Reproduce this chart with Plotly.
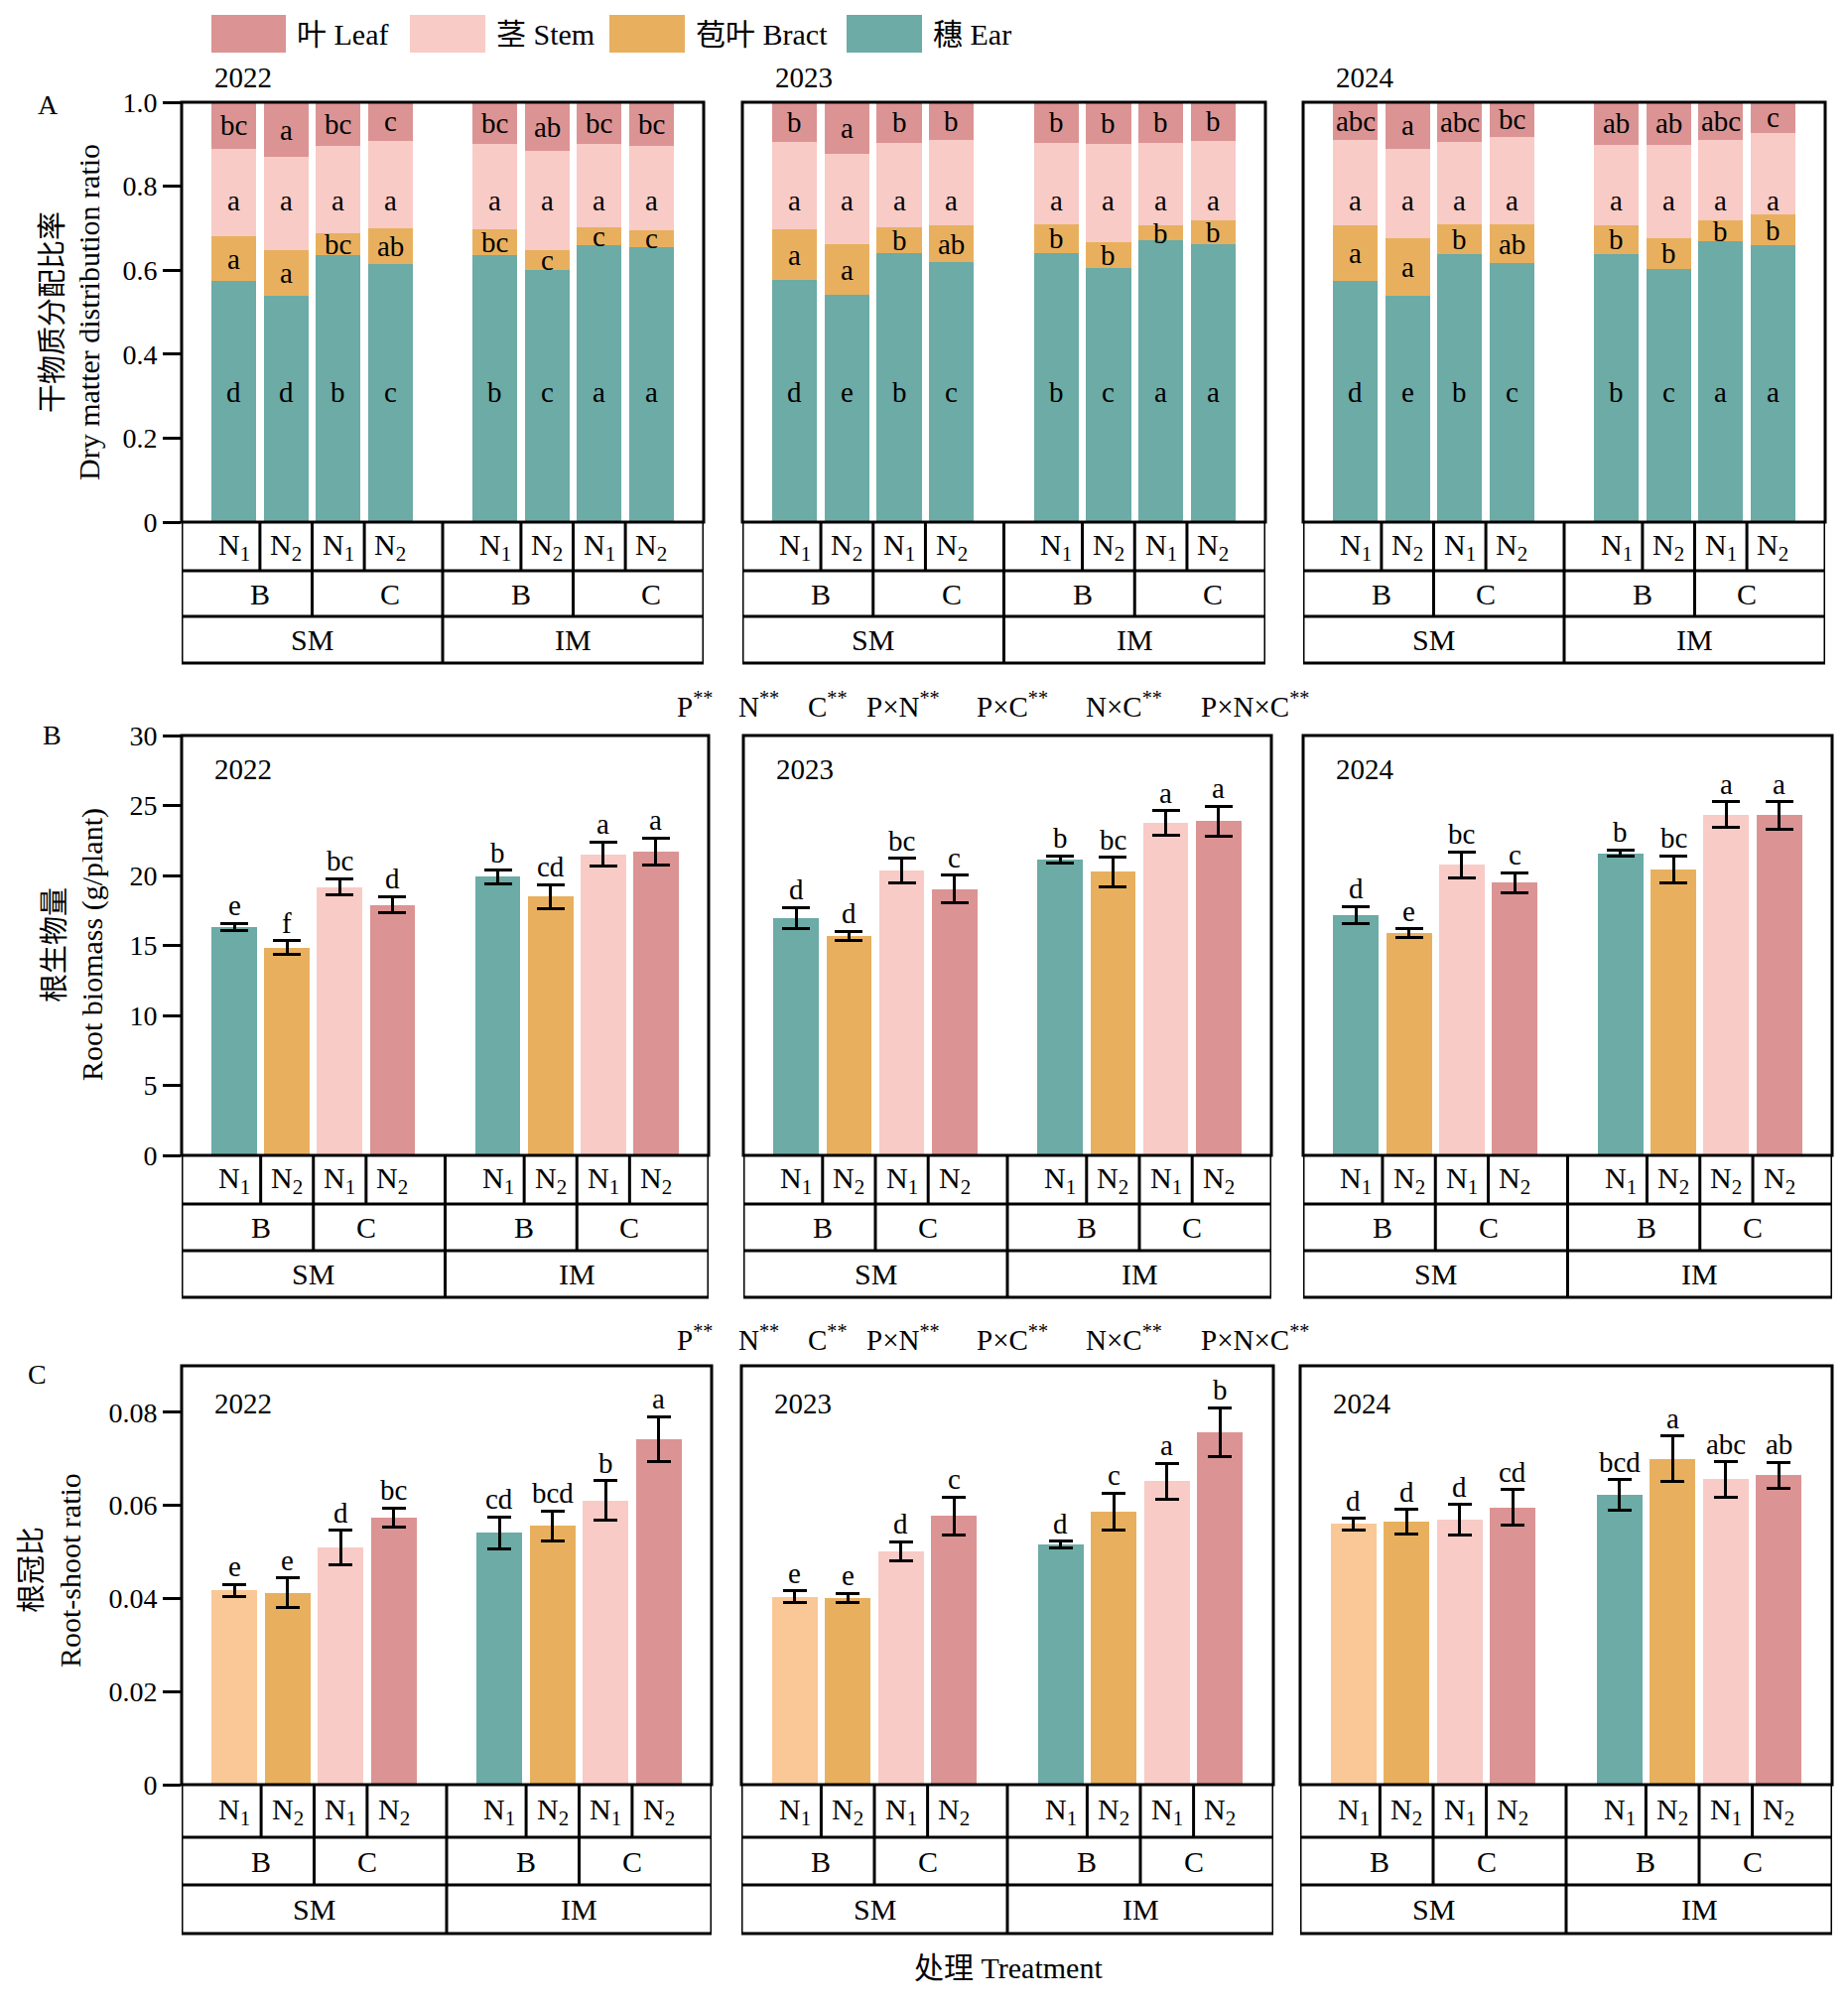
import plotly.graph_objects as go

W, H = 1862, 2021
OFF = 8  # page body margin compensation (px)
SERIF = "Liberation Serif"
MIXED = "Liberation Serif, Noto Sans CJK SC"

TEAL = "#6CABA6"
ORANGE = "#E8B05E"
LPINK = "#F8CBC6"
DPINK = "#DB9493"
LORANGE = "#F9C896"

years = ["2022", "2023", "2024"]
x_pos = [1, 2, 3, 4, 6, 7, 8, 9]

# ---------------- Panel A: dry matter distribution ratio (stacked) ----------------
ear_2022 = [0.574, 0.539, 0.637, 0.614, 0.637, 0.600, 0.660, 0.656]
bract_2022 = [0.106, 0.108, 0.052, 0.085, 0.061, 0.047, 0.041, 0.040]
stem_2022 = [0.210, 0.222, 0.208, 0.209, 0.202, 0.237, 0.199, 0.199]
leaf_2022 = [0.110, 0.131, 0.103, 0.092, 0.100, 0.116, 0.100, 0.105]

ear_2023 = [0.576, 0.542, 0.641, 0.619, 0.641, 0.606, 0.671, 0.661]
bract_2023 = [0.122, 0.119, 0.062, 0.088, 0.069, 0.061, 0.036, 0.058]
stem_2023 = [0.208, 0.215, 0.201, 0.204, 0.194, 0.233, 0.197, 0.189]
leaf_2023 = [0.094, 0.124, 0.096, 0.089, 0.096, 0.100, 0.096, 0.092]

ear_2024 = [0.575, 0.540, 0.639, 0.617, 0.639, 0.603, 0.668, 0.659]
bract_2024 = [0.131, 0.137, 0.071, 0.092, 0.069, 0.074, 0.051, 0.074]
stem_2024 = [0.204, 0.212, 0.196, 0.209, 0.191, 0.222, 0.191, 0.194]
leaf_2024 = [0.090, 0.111, 0.094, 0.082, 0.101, 0.101, 0.090, 0.073]

leaf_let_2022 = ["bc", "a", "bc", "c", "bc", "ab", "bc", "bc"]
stem_let_2022 = ["a"] * 8
bract_let_2022 = ["a", "a", "bc", "ab", "bc", "c", "c", "c"]
ear_let_2022 = ["d", "d", "b", "c", "b", "c", "a", "a"]

leaf_let_2023 = ["b", "a", "b", "b", "b", "b", "b", "b"]
stem_let_2023 = ["a"] * 8
bract_let_2023 = ["a", "a", "b", "ab", "b", "b", "b", "b"]
ear_let_2023 = ["d", "e", "b", "c", "b", "c", "a", "a"]

leaf_let_2024 = ["abc", "a", "abc", "bc", "ab", "ab", "abc", "c"]
stem_let_2024 = ["a"] * 8
bract_let_2024 = ["a", "a", "b", "ab", "b", "b", "b", "b"]
ear_let_2024 = ["d", "e", "b", "c", "b", "c", "a", "a"]

# ---------------- Panel B: root biomass ----------------
root_2022 = [16.31, 14.84, 19.18, 17.90, 19.90, 18.48, 21.52, 21.70]
root_err_2022 = [0.26, 0.49, 0.58, 0.59, 0.49, 0.87, 0.87, 0.98]
root_let_2022 = ["e", "f", "bc", "d", "b", "cd", "a", "a"]

root_2023 = [16.98, 15.68, 20.36, 19.03, 21.15, 20.25, 23.75, 23.89]
root_err_2023 = [0.74, 0.33, 0.87, 0.98, 0.25, 1.03, 0.87, 1.06]
root_let_2023 = ["d", "d", "bc", "c", "b", "bc", "a", "a"]

root_2024 = [17.18, 15.88, 20.77, 19.47, 21.58, 20.45, 24.36, 24.30]
root_err_2024 = [0.61, 0.30, 0.93, 0.72, 0.23, 0.96, 0.91, 0.98]
root_let_2024 = ["d", "e", "bc", "c", "b", "bc", "a", "a"]

# ---------------- Panel C: root-shoot ratio ----------------
rs_2022 = [0.0417, 0.0412, 0.0509, 0.0574, 0.0541, 0.0556, 0.0611, 0.0743]
rs_err_2022 = [0.0013, 0.0032, 0.0037, 0.0020, 0.0034, 0.0032, 0.0042, 0.0048]
rs_let_2022 = ["e", "e", "d", "bc", "cd", "bcd", "b", "a"]

rs_2023 = [0.0404, 0.0401, 0.0501, 0.0577, 0.0516, 0.0587, 0.0652, 0.0757]
rs_err_2023 = [0.0012, 0.0010, 0.0021, 0.0041, 0.0007, 0.0040, 0.0039, 0.0053]
rs_let_2023 = ["e", "e", "d", "c", "d", "c", "a", "b"]

rs_2024 = [0.0560, 0.0565, 0.0569, 0.0596, 0.0622, 0.0700, 0.0656, 0.0665]
rs_err_2024 = [0.0012, 0.0026, 0.0033, 0.0038, 0.0033, 0.0049, 0.0038, 0.0028]
rs_let_2024 = ["d", "d", "d", "cd", "bcd", "a", "abc", "ab"]

# category labels
N1 = "N<sub>1</sub>"
N2 = "N<sub>2</sub>"
n_labels_std = [N1, N2, N1, N2, N1, N2, N1, N2]
n_labels_b2024 = [N1, N2, N1, N2, N1, N2, N2, N2]
bc_labels = ["B", "C", "B", "C"]
mode_labels = ["SM", "IM"]
sig_terms = ["P", "N", "C", "P×N", "P×C", "N×C", "P×N×C"]
legend_names = ["叶 Leaf", "茎 Stem", "苞叶 Bract", "穗 Ear"]
legend_colors = [DPINK, LPINK, ORANGE, TEAL]

root_colors = [TEAL, ORANGE, LPINK, DPINK, TEAL, ORANGE, LPINK, DPINK]
rs_colors = [LORANGE, ORANGE, LPINK, DPINK, TEAL, ORANGE, LPINK, DPINK]

A_parts = {
    "2022": (ear_2022, bract_2022, stem_2022, leaf_2022),
    "2023": (ear_2023, bract_2023, stem_2023, leaf_2023),
    "2024": (ear_2024, bract_2024, stem_2024, leaf_2024),
}
A_lets = {
    "2022": (ear_let_2022, bract_let_2022, stem_let_2022, leaf_let_2022),
    "2023": (ear_let_2023, bract_let_2023, stem_let_2023, leaf_let_2023),
    "2024": (ear_let_2024, bract_let_2024, stem_let_2024, leaf_let_2024),
}
B_data = {"2022": (root_2022, root_err_2022, root_let_2022),
          "2023": (root_2023, root_err_2023, root_let_2023),
          "2024": (root_2024, root_err_2024, root_let_2024)}
C_data = {"2022": (rs_2022, rs_err_2022, rs_let_2022),
          "2023": (rs_2023, rs_err_2023, rs_let_2023),
          "2024": (rs_2024, rs_err_2024, rs_let_2024)}

# ---------------- layout geometry (pixels) ----------------
row_x = [
    [(183, 709), (748, 1275), (1313, 1839)],
    [(183, 714), (749, 1281), (1313, 1846)],
    [(183, 717), (747, 1283), (1310, 1846)],
]
row_y = [(103, 526), (741, 1164), (1376, 1798)]
table_y = [(526, 575, 621, 668), (1164, 1213, 1260, 1307), (1798, 1851, 1899, 1948)]
c_label_pos = [[4.0, 4.0, 3.5], [3.5, 3.5, 3.5], [3.5, 3.5, 3.5]]
y_ranges = [[0, 1.0], [0, 30], [0, 0.09]]
y_tickvals = [[0, 0.2, 0.4, 0.6, 0.8, 1.0], [0, 5, 10, 15, 20, 25, 30], [0, 0.02, 0.04, 0.06, 0.08]]
y_ticktext = [["0", "0.2", "0.4", "0.6", "0.8", "1.0"], ["0", "5", "10", "15", "20", "25", "30"],
              ["0", "0.02", "0.04", "0.06", "0.08"]]


def py(v):
    return 1 - (v - OFF) / H


def px(v):
    return (v - OFF) / W


fig = go.Figure()
shapes = []
annotations = []
layout_axes = {}
LW = 3
FS = 29


def ann(text, x, y, xref="paper", yref="paper", size=FS, family=SERIF, **kw):
    d = dict(text=text, x=x, y=y, xref=xref, yref=yref, showarrow=False,
             xanchor="center", yanchor="middle",
             font=dict(family=family, size=size, color="black"))
    d.update(kw)
    annotations.append(d)


for r in range(3):
    for c in range(3):
        k = r * 3 + c + 1
        sfx = "" if k == 1 else str(k)
        xa, ya = "x" + sfx, "y" + sfx
        yr = years[c]
        x0, x1 = row_x[r][c]
        t, b = row_y[r]
        layout_axes["xaxis" + sfx] = dict(domain=[px(x0), px(x1)], range=[0, 10], visible=False,
                                          anchor=ya, fixedrange=True, automargin=False)
        layout_axes["yaxis" + sfx] = dict(
            domain=[py(b), py(t)], range=y_ranges[r], anchor=xa, showgrid=False, zeroline=False,
            showline=False, tickmode="array", tickvals=y_tickvals[r], ticktext=y_ticktext[r],
            ticks="outside" if c == 0 else "", ticklen=18, tickwidth=LW, tickcolor="black",
            showticklabels=(c == 0), automargin=False, fixedrange=True,
            tickfont=dict(family=SERIF, size=28, color="black"))

        if r == 0:
            parts = A_parts[yr]
            lets = A_lets[yr]
            for vals, col in zip(parts, [TEAL, ORANGE, LPINK, DPINK]):
                fig.add_trace(go.Bar(x=x_pos, y=vals, marker=dict(color=col, line=dict(width=0)),
                                     width=0.86, xaxis=xa, yaxis=ya, showlegend=False))
            ear, bract, stem, leaf = parts
            for i, xp in enumerate(x_pos):
                e_top = ear[i]
                b_top = e_top + bract[i]
                s_top = b_top + stem[i]
                l_top = s_top + leaf[i]
                ann(lets[0][i], xp, 0.31, xa, ya)
                ann(lets[1][i], xp, (e_top + b_top) / 2, xa, ya)
                ann(lets[2][i], xp, 0.765, xa, ya)
                ann(lets[3][i], xp, (s_top + l_top) / 2, xa, ya)
        else:
            vals, errs, lets = (B_data if r == 1 else C_data)[yr]
            cols = root_colors if r == 1 else rs_colors
            fig.add_trace(go.Bar(
                x=x_pos, y=vals, marker=dict(color=cols, line=dict(width=0)), width=0.86,
                xaxis=xa, yaxis=ya, showlegend=False,
                error_y=dict(type="data", array=errs, visible=True, color="black",
                             thickness=LW, width=14 if r == 1 else 12)))
            for i, xp in enumerate(x_pos):
                ann(lets[i], xp, vals[i] + errs[i], xa, ya, size=29, yanchor="bottom", yshift=0)

        # panel border
        shapes.append(dict(type="rect", xref=xa + " domain", yref=ya + " domain", x0=0, x1=1, y0=0, y1=1,
                           line=dict(color="black", width=LW), layer="above"))

        # year label
        unit = (x1 - x0) / 10.0
        if r == 0:
            ann(yr, px(x0 + 0.58 * unit), py(78), xanchor="left")
        else:
            ann(yr, px(x0 + 0.58 * unit), py(t + (34 if r == 1 else 38)), xanchor="left")

        # category table below the panel
        r0, r1, r2, r3 = table_y[r]
        for yy in (r1, r2, r3):
            shapes.append(dict(type="line", xref=xa, yref="paper", x0=0, x1=10, y0=py(yy), y1=py(yy),
                               line=dict(color="black", width=LW)))
        for xx in (0, 10):
            shapes.append(dict(type="line", xref=xa, yref="paper", x0=xx, x1=xx, y0=py(r0), y1=py(r3),
                               line=dict(color="black", width=LW)))
        for xx in (1.5, 2.5, 3.5, 5, 6.5, 7.5, 8.5):
            shapes.append(dict(type="line", xref=xa, yref="paper", x0=xx, x1=xx, y0=py(r0), y1=py(r1),
                               line=dict(color="black", width=LW)))
        for xx in (2.5, 5, 7.5):
            shapes.append(dict(type="line", xref=xa, yref="paper", x0=xx, x1=xx, y0=py(r1), y1=py(r2),
                               line=dict(color="black", width=LW)))
        shapes.append(dict(type="line", xref=xa, yref="paper", x0=5, x1=5, y0=py(r2), y1=py(r3),
                           line=dict(color="black", width=LW)))

        nl = n_labels_b2024 if (r == 1 and c == 2) else n_labels_std
        for i, xp in enumerate(x_pos):
            ann(nl[i], xp, py((r0 + r1) / 2), xa, "paper", size=30)
        cp = c_label_pos[r][c]
        for lab, xp in zip(bc_labels, [1.5, cp, 6.5, cp + 5]):
            ann(lab, xp, py((r1 + r2) / 2), xa, "paper", size=30)
        for lab, xp in zip(mode_labels, [2.5, 7.5]):
            ann(lab, xp, py((r2 + r3) / 2), xa, "paper", size=30)

# panel letters
ann("A", px(48), py(105), size=28)
ann("B", px(52), py(740), size=28)
ann("C", px(37), py(1384), size=28)

# y-axis titles
ann("干物质分配比率", px(53), py(315), family=MIXED, size=29, textangle=-90)
ann("Dry matter distribution ratio", px(90), py(315), size=30, textangle=-90)
ann("根生物量", px(55), py(952), family=MIXED, size=29, textangle=-90)
ann("Root biomass (g/plant)", px(93), py(952), size=30, textangle=-90)
ann("根冠比", px(32), py(1582), family=MIXED, size=29, textangle=-90)
ann("Root-shoot ratio", px(70), py(1582), size=30, textangle=-90)

# x title
ann("处理 Treatment", px(1016), py(1982), family=MIXED, size=30)

# significance rows
sig_x = [680, 742, 812, 871, 982, 1092, 1208]
for sy in (710, 1348):
    for term, sx in zip(sig_terms, sig_x):
        ann(term + "<sup>**</sup>", px(sx), py(sy), size=29, xanchor="left")

# legend
leg_boxes = [(213, 288), (413, 489), (614, 690), (853, 929)]
for name, col, (lx0, lx1) in zip(legend_names, legend_colors, leg_boxes):
    shapes.append(dict(type="rect", xref="paper", yref="paper", x0=px(lx0), x1=px(lx1), y0=py(53), y1=py(15),
                       fillcolor=col, line=dict(width=0)))
    ann(name, px(lx1 + 9), py(34), family=MIXED, size=30, xanchor="left")

fig.update_layout(
    width=W, height=H, margin=dict(l=0, r=0, t=0, b=0, pad=0, autoexpand=False),
    paper_bgcolor="white", plot_bgcolor="white",
    barmode="stack", bargap=0, showlegend=False,
    shapes=shapes, annotations=annotations,
    font=dict(family=SERIF, color="black"),
    **layout_axes,
)

fig.write_html("out.html")
